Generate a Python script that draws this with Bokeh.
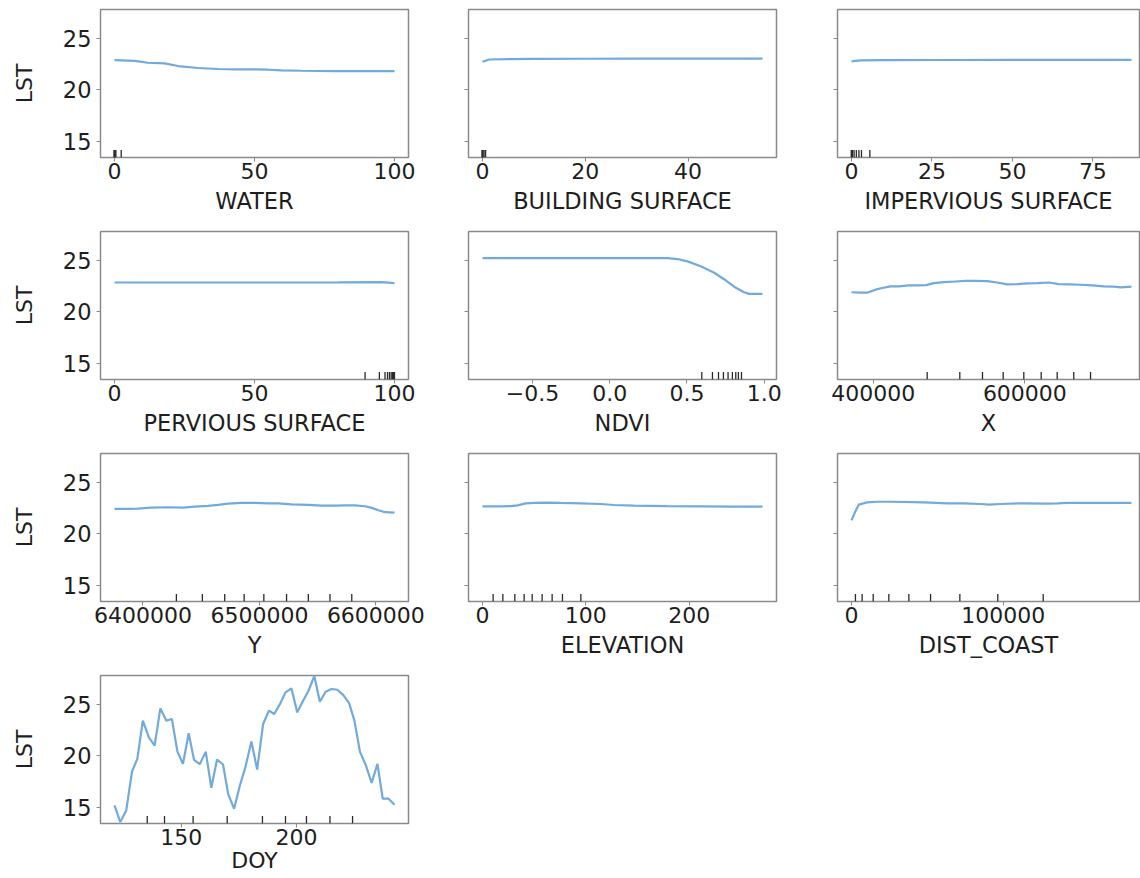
from bokeh.plotting import figure
from bokeh.layouts import gridplot
from bokeh.models import Range1d, FixedTicker, BasicTickFormatter, CustomJSTickFormatter
from bokeh.embed import file_html
from bokeh.resources import INLINE

# ---------------- data ----------------
Y_LO, Y_HI = 13.4, 27.85
Y_TICKS = [15, 20, 25]

water_x = [0, 7.2, 11.9, 17.9, 22.7, 29.8, 37.0, 43.0, 50.1, 54.9, 59.7, 66.8, 78.8, 100]
water_y = [22.91, 22.84, 22.65, 22.59, 22.33, 22.14, 22.04, 22.0, 22.0, 21.97, 21.9, 21.87, 21.84, 21.84]
water_dec = [0, 0, 0, 0, 0, 0, 0, 0.5, 2.4]
water_ticks = [0, 50, 100]

bld_x = [0, 0.6, 1.3, 5, 10, 20, 30, 40, 54.5]
bld_y = [22.74, 22.85, 22.97, 23.0, 23.02, 23.04, 23.05, 23.06, 23.06]
bld_dec = [0, 0, 0, 0, 0, 0, 0, 0.3, 0.6]
bld_ticks = [0, 20, 40]

imp_x = [0, 1, 3, 10, 30, 50, 70, 87]
imp_y = [22.77, 22.84, 22.88, 22.9, 22.92, 22.93, 22.94, 22.94]
imp_dec = [0, 0, 0, 0.3, 0.8, 1.5, 2.3, 3.1, 5.7]
imp_ticks = [0, 25, 50, 75]

per_x = [0, 20, 50, 80, 95, 98, 100]
per_y = [22.87, 22.87, 22.87, 22.88, 22.9, 22.85, 22.8]
per_dec = [89.5, 94.6, 96.6, 97.5, 98.2, 98.8, 99.3, 99.7, 100]
per_ticks = [0, 50, 100]

ndvi_x = [-0.824, -0.5, 0.0, 0.374, 0.438, 0.503, 0.589, 0.676, 0.74, 0.805, 0.87, 0.902, 0.989]
ndvi_y = [25.25, 25.25, 25.25, 25.25, 25.16, 24.93, 24.46, 23.82, 23.19, 22.46, 21.92, 21.76, 21.76]
ndvi_dec = [0.596, 0.665, 0.704, 0.736, 0.766, 0.794, 0.816, 0.833, 0.853]
ndvi_ticks = [-0.5, 0.0, 0.5, 1.0]

xc_x = [371400, 383300, 392900, 403000, 411900, 422800, 433800, 446900, 458000, 469900,
        479900, 493100, 508500, 521700, 532700, 550300, 563500, 576700, 589900, 603100,
        616300, 631600, 644800, 660200, 673400, 688800, 704100, 717300, 726100, 740600]
xc_y = [21.92, 21.89, 21.89, 22.17, 22.33, 22.49, 22.49, 22.59, 22.59, 22.62,
        22.81, 22.9, 22.97, 23.03, 23.03, 23.0, 22.87, 22.68, 22.71, 22.78,
        22.81, 22.87, 22.71, 22.68, 22.65, 22.59, 22.49, 22.46, 22.4, 22.46]
xc_dec = [471200, 514200, 544100, 571400, 598600, 621500, 642600, 664500, 686600]
xc_ticks = [400000, 600000]

yc_x = [6375560, 6387100, 6395700, 6407100, 6421500, 6434400, 6444400, 6455900, 6464500,
        6473100, 6484600, 6496000, 6507600, 6516200, 6527600, 6542000, 6553400, 6564900,
        6573500, 6582100, 6590700, 6596500, 6602200, 6607900, 6616000]
yc_y = [22.44, 22.44, 22.47, 22.57, 22.6, 22.57, 22.66, 22.73, 22.83,
        22.95, 23.02, 23.02, 22.98, 22.98, 22.89, 22.83, 22.76, 22.76,
        22.79, 22.79, 22.7, 22.54, 22.31, 22.12, 22.08]
yc_dec = [6428700, 6451000, 6470200, 6486900, 6503800, 6523300, 6542000, 6560600, 6579300]
yc_ticks = [6400000, 6500000, 6600000]

elev_x = [0, 17.7, 27.4, 33.9, 41.9, 50, 62.9, 75.8, 95.2, 114.5, 127.4, 146.8, 179, 211.3, 243.5, 271]
elev_y = [22.69, 22.69, 22.72, 22.79, 22.98, 23.02, 23.05, 23.02, 22.98, 22.92, 22.82, 22.76,
          22.72, 22.69, 22.66, 22.66]
elev_dec = [10.3, 19.7, 31.3, 40.3, 48.1, 57.7, 67.4, 77.4, 95.2]
elev_ticks = [0, 100, 200]

dist_x = [0, 2600, 4800, 10300, 16900, 25700, 41100, 52100, 63100, 74000, 85000, 90500,
          98200, 111400, 129000, 135600, 142100, 155300, 172900, 184500]
dist_y = [21.32, 22.21, 22.86, 23.08, 23.14, 23.14, 23.11, 23.05, 22.98, 22.98, 22.92, 22.86,
          22.92, 22.98, 22.95, 22.98, 23.02, 23.02, 23.02, 23.02]
dist_dec = [2600, 7000, 14300, 24600, 37800, 52100, 71400, 96400, 126300]
dist_ticks = [0, 100000]

doy_x = [121.0, 123.5, 126.1, 128.6, 130.9, 133.3, 135.9, 138.4, 140.9, 143.5,
         145.9, 148.3, 150.7, 153.2, 155.5, 158.0, 160.6, 163.0, 165.5, 168.1,
         170.3, 172.9, 175.4, 177.8, 180.4, 182.9, 185.5, 188.0, 190.3, 192.8,
         195.2, 197.8, 200.3, 202.6, 205.2, 207.7, 210.1, 212.6, 215.2, 217.7,
         220.3, 222.8, 225.1, 227.5, 230.1, 232.6, 235.1, 237.4, 239.9, 242.5]
doy_y = [15.17, 13.54, 14.68, 18.48, 19.71, 23.44, 21.82, 21.01, 24.64, 23.44,
         23.6, 20.42, 19.22, 22.21, 19.61, 19.19, 20.42, 16.89, 19.64, 19.16,
         16.30, 14.84, 17.11, 18.9, 21.4, 18.67, 23.12, 24.42, 24.09, 25.07,
         26.2, 26.59, 24.25, 25.29, 26.36, 27.82, 25.29, 26.27, 26.53, 26.46,
         25.94, 25.16, 23.44, 20.42, 19.06, 17.37, 19.22, 15.82, 15.82, 15.23]
doy_dec = [135.2, 142.7, 155.1, 169.9, 185.2, 195.2, 204.3, 214.5, 224.3]
doy_ticks = [150, 200]

# ---------------- styling ----------------
FONT = "DejaVu Sans"
LINE_COLOR = "#72aadb"
FRAME_COLOR = "#8a8a8a"
TEXT_COLOR = "#1e1e1e"
COL_W = [438, 368, 334]
COL_BL = [100, 30, 31]
COL_BR = [30, 30, 1]
REF_FRAME_W = 308.0


def make_panel(label, xs, ys, dec, ticks, col, height, bottom, fmt=None,
               label_size="22.5px", label_standoff=6):
    lo, hi = min(xs), max(xs)
    span = hi - lo
    start = lo - 0.05 * span
    full = span * 1.1
    frame_w = COL_W[col] - COL_BL[col] - COL_BR[col]
    end = start + full * (frame_w / REF_FRAME_W)
    p = figure(width=COL_W[col], height=height,
               x_range=Range1d(start, end), y_range=Range1d(Y_LO, Y_HI),
               output_backend="svg", toolbar_location=None,
               min_border_left=COL_BL[col], min_border_right=COL_BR[col],
               min_border_top=9, min_border_bottom=bottom)
    p.xgrid.visible = False
    p.ygrid.visible = False
    p.background_fill_color = "white"
    p.border_fill_color = "white"
    p.outline_line_color = FRAME_COLOR
    p.outline_line_width = 1.5

    p.line(xs, ys, line_color=LINE_COLOR, line_width=2.2)
    rug_top = Y_LO + 0.05 * (Y_HI - Y_LO)
    p.segment(x0=dec, y0=[Y_LO] * len(dec), x1=dec, y1=[rug_top] * len(dec),
              line_color="#2a2a2a", line_width=1.3)

    xa = p.xaxis[0]
    xa.ticker = FixedTicker(ticks=ticks)
    xa.formatter = fmt if fmt is not None else BasicTickFormatter(use_scientific=False)
    xa.axis_label = label
    xa.axis_line_color = None
    xa.major_tick_line_color = FRAME_COLOR
    xa.major_tick_line_width = 1
    xa.major_tick_out = 4
    xa.major_tick_in = 0
    xa.minor_tick_line_color = None
    xa.major_label_standoff = 1
    xa.axis_label_standoff = label_standoff
    xa.major_label_text_font = FONT
    xa.major_label_text_font_size = "22px"
    xa.major_label_text_color = TEXT_COLOR
    xa.axis_label_text_font = FONT
    xa.axis_label_text_font_size = label_size
    xa.axis_label_text_font_style = "normal"
    xa.axis_label_text_color = TEXT_COLOR

    ya = p.yaxis[0]
    ya.ticker = FixedTicker(ticks=Y_TICKS)
    ya.axis_line_color = None
    ya.major_tick_line_color = FRAME_COLOR
    ya.major_tick_line_width = 1
    ya.major_tick_out = 4
    ya.major_tick_in = 0
    ya.minor_tick_line_color = None
    if col == 0:
        ya.axis_label = "LST"
        ya.major_label_standoff = 5
        ya.axis_label_standoff = 23
        ya.major_label_text_font = FONT
        ya.major_label_text_font_size = "22.5px"
        ya.major_label_text_color = TEXT_COLOR
        ya.axis_label_text_font = FONT
        ya.axis_label_text_font_size = "22px"
        ya.axis_label_text_font_style = "normal"
        ya.axis_label_text_color = TEXT_COLOR
    else:
        ya.formatter = CustomJSTickFormatter(code="return '';")
        ya.major_label_standoff = 0
    return p


ndvi_fmt = CustomJSTickFormatter(
    code="return tick < 0 ? '\\u2212' + (-tick).toFixed(1) : tick.toFixed(1);")

H, HB = 222, 212
p1 = make_panel("WATER", water_x, water_y, water_dec, water_ticks, 0, H, 65)
p2 = make_panel("BUILDING SURFACE", bld_x, bld_y, bld_dec, bld_ticks, 1, H, 65)
p3 = make_panel("IMPERVIOUS SURFACE", imp_x, imp_y, imp_dec, imp_ticks, 2, H, 65)
p4 = make_panel("PERVIOUS SURFACE", per_x, per_y, per_dec, per_ticks, 0, H, 65)
p5 = make_panel("NDVI", ndvi_x, ndvi_y, ndvi_dec, ndvi_ticks, 1, H, 65, fmt=ndvi_fmt)
p6 = make_panel("X", xc_x, xc_y, xc_dec, xc_ticks, 2, H, 65)
p7 = make_panel("Y", yc_x, yc_y, yc_dec, yc_ticks, 0, H, 65)
p8 = make_panel("ELEVATION", elev_x, elev_y, elev_dec, elev_ticks, 1, H, 65)
p9 = make_panel("DIST_COAST", dist_x, dist_y, dist_dec, dist_ticks, 2, H, 65)
p10 = make_panel("DOY", doy_x, doy_y, doy_dec, doy_ticks, 0, HB, 55,
                 label_size="22px", label_standoff=0)

grid = gridplot([[p1, p2, p3], [p4, p5, p6], [p7, p8, p9], [p10, None, None]],
                toolbar_location=None)

open("out.html", "w").write(file_html(grid, INLINE))
